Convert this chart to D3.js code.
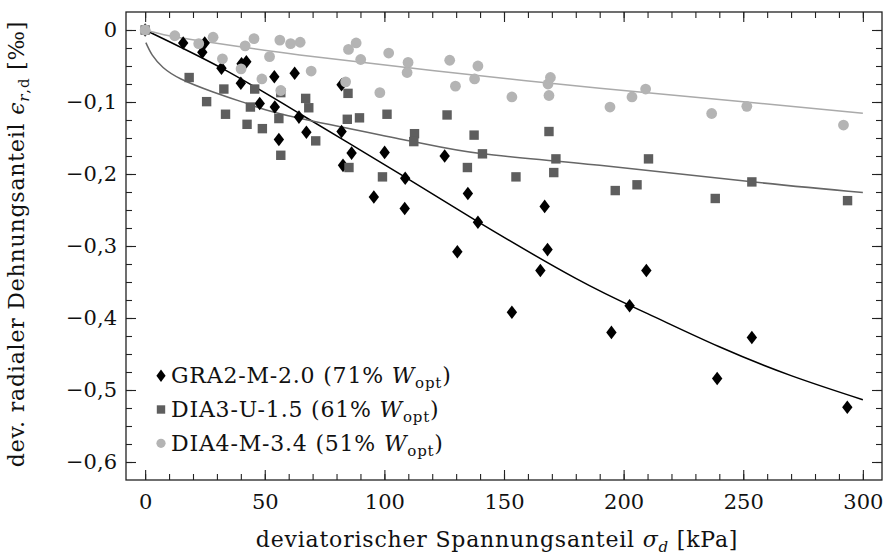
<!DOCTYPE html>
<html>
<head>
<meta charset="utf-8">
<script src="https://cdn.jsdelivr.net/npm/d3@7/dist/d3.min.js"></script>
<style>
  html, body { margin: 0; padding: 0; background: #fff; }
  svg { display: block; }
  text { font-family: "DejaVu Serif", "Liberation Serif", serif; fill: #111; }
  .title, .legend-text { letter-spacing: 0.8px; }
</style>
</head>
<body>
<svg id="chart" width="886" height="557"></svg>
<script>
// GRA2-M-2.0 (black diamonds)
const graX = [0, 15.9, 24.9, 23.9, 31.9, 40.3, 42.3, 40.0, 54.0, 47.9, 54.2, 55.9, 62.5, 64.3, 67.4,
  82.1, 82.1, 86.3, 82.7, 100.1, 95.6, 108.7, 108.5, 125.2, 134.9, 139.1, 130.5, 167.0, 168.2,
  165.2, 153.3, 209.5, 202.5, 194.9, 253.6, 239.1, 293.5];
const graY = [0, -0.018, -0.018, -0.031, -0.053, -0.047, -0.044, -0.074, -0.065, -0.102, -0.107,
  -0.152, -0.060, -0.121, -0.142, -0.076, -0.141, -0.171, -0.188, -0.170, -0.232, -0.206, -0.248,
  -0.175, -0.227, -0.267, -0.308, -0.245, -0.305, -0.334, -0.392, -0.334, -0.383, -0.420, -0.427,
  -0.484, -0.524];

// DIA3-U-1.5 (dark grey squares)
const dia3X = [0, 18.4, 25.7, 32.9, 33.6, 42.6, 44.0, 45.8, 49.0, 55.9, 56.7, 56.7, 67.1, 68.4,
  71.3, 84.8, 84.5, 89.6, 85.2, 101.1, 112.6, 112.3, 99.2, 126.2, 137.5, 141.0, 134.7, 155.0,
  168.8, 171.7, 170.8, 210.4, 196.5, 205.6, 238.3, 253.6, 293.6];
const dia3Y = [0, -0.066, -0.0995, -0.082, -0.117, -0.131, -0.107, -0.082, -0.137, -0.123, -0.174,
  -0.087, -0.095, -0.108, -0.154, -0.088, -0.124, -0.122, -0.191, -0.117, -0.144, -0.155, -0.204,
  -0.118, -0.146, -0.172, -0.191, -0.204, -0.141, -0.179, -0.198, -0.179, -0.223, -0.215, -0.234,
  -0.211, -0.237];

// DIA4-M-3.4 (light grey circles)
const dia4X = [0, 12.4, 22.4, 28.4, 32.3, 41.8, 45.5, 40.1, 52.0, 48.8, 56.3, 60.8, 64.8, 56.7,
  69.4, 83.8, 85.0, 88.2, 90.1, 98.1, 101.8, 109.9, 109.5, 127.3, 129.7, 137.7, 139.1, 153.3,
  168.8, 168.4, 169.4, 194.3, 203.5, 209.2, 236.8, 251.5, 291.9];
const dia4Y = [0, -0.008, -0.019, -0.010, -0.040, -0.022, -0.012, -0.054, -0.037, -0.068, -0.014,
  -0.019, -0.017, -0.084, -0.057, -0.072, -0.027, -0.018, -0.041, -0.087, -0.032, -0.045, -0.059,
  -0.042, -0.078, -0.068, -0.050, -0.093, -0.091, -0.075, -0.066, -0.107, -0.093, -0.082, -0.116,
  -0.106, -0.132];

// Trend curves, sampled along each fit
const graFitX = [0, 32, 65, 109, 139, 180, 210, 240, 270, 300];
const graFitY = [0, -0.053, -0.117, -0.205, -0.266, -0.345, -0.394, -0.440, -0.480, -0.5135];
const dia3FitX = [0.3, 3, 7.5, 15, 28.4, 45, 64.6, 112, 141, 190, 252.6, 300];
const dia3FitY = [-0.0176, -0.035, -0.052, -0.068, -0.086, -0.105, -0.1226, -0.155, -0.172, -0.188, -0.2105, -0.2258];
const dia4FitX = [0, 10, 28.4, 64.6, 120, 190, 250, 300];
const dia4FitY = [0, -0.008, -0.0178, -0.0347, -0.0562, -0.081, -0.0995, -0.1157];

// Axis ticks
const xMajorTicks = [0, 50, 100, 150, 200, 250, 300];
const xMinorTicks = d3.range(0, 301, 10);
const yMajorTicks = [0, -0.1, -0.2, -0.3, -0.4, -0.5, -0.6];
const yMinorTicks = d3.range(0, 25).map(i => -i * 0.025);

// Legend entries
const legendNames = ["GRA2-M-2.0 (71%\u00A0", "DIA3-U-1.5 (61%\u00A0", "DIA4-M-3.4 (51%\u00A0"];
const seriesColors = ["#000000", "#5e5e5e", "#b4b4b4"];
const fitColors = ["#000000", "#666666", "#aaaaaa"];

const FS_TICK = 21, FS = 22, FS_SUB = 15;

const svg = d3.select("#chart");
const plot = { left: 126, right: 882, top: 12, bottom: 480 };

const x = d3.scaleLinear().domain([-8, 308]).range([plot.left, plot.right]);
const y = d3.scaleLinear().domain([-0.625, 0.025]).range([plot.bottom, plot.top]);

const de = d3.formatLocale({ decimal: ",", thousands: ".", grouping: [3], currency: ["", " €"], minus: "\u2212" });
const fmt = de.format(".1~f");

// Frame
svg.append("rect")
  .attr("x", plot.left).attr("y", plot.top)
  .attr("width", plot.right - plot.left).attr("height", plot.bottom - plot.top)
  .attr("fill", "none").attr("stroke", "#222").attr("stroke-width", 1.3);

function styleAxis(g) {
  g.select(".domain").remove();
  g.selectAll(".tick line").attr("stroke", "#222").attr("stroke-width", 1.1);
  g.selectAll("text").attr("font-size", FS_TICK).attr("fill", "#111")
    .attr("font-family", '"DejaVu Serif", serif');
}

// Minor ticks on all four sides
svg.append("g").attr("transform", `translate(0,${plot.bottom})`)
  .call(d3.axisBottom(x).tickValues(xMinorTicks).tickSize(-6).tickFormat(""))
  .call(styleAxis);
svg.append("g").attr("transform", `translate(0,${plot.top})`)
  .call(d3.axisTop(x).tickValues(xMinorTicks).tickSize(-6).tickFormat(""))
  .call(styleAxis);
svg.append("g").attr("transform", `translate(${plot.left},0)`)
  .call(d3.axisLeft(y).tickValues(yMinorTicks).tickSize(-6).tickFormat(""))
  .call(styleAxis);
svg.append("g").attr("transform", `translate(${plot.right},0)`)
  .call(d3.axisRight(y).tickValues(yMinorTicks).tickSize(-6).tickFormat(""))
  .call(styleAxis);

// Major ticks with labels
svg.append("g").attr("transform", `translate(0,${plot.bottom})`)
  .call(d3.axisBottom(x).tickValues(xMajorTicks).tickSize(-10).tickPadding(14).tickFormat(fmt))
  .call(styleAxis);
svg.append("g").attr("transform", `translate(0,${plot.top})`)
  .call(d3.axisTop(x).tickValues(xMajorTicks).tickSize(-10).tickFormat(""))
  .call(styleAxis);
svg.append("g").attr("transform", `translate(${plot.left},0)`)
  .call(d3.axisLeft(y).tickValues(yMajorTicks).tickSize(-10).tickPadding(9).tickFormat(fmt))
  .call(styleAxis);
svg.append("g").attr("transform", `translate(${plot.right},0)`)
  .call(d3.axisRight(y).tickValues(yMajorTicks).tickSize(-10).tickFormat(""))
  .call(styleAxis);

// Fit curves
const line = d3.line().x(d => x(d[0])).y(d => y(d[1])).curve(d3.curveNatural);
const fits = [
  d3.zip(graFitX, graFitY),
  d3.zip(dia3FitX, dia3FitY),
  d3.zip(dia4FitX, dia4FitY)
];
fits.forEach((pts, i) => {
  svg.append("path").attr("d", line(pts))
    .attr("fill", "none").attr("stroke", fitColors[i]).attr("stroke-width", 1.5);
});

// Markers
const diamond = (hw, hh) => `M0,${-hh}L${hw},0L0,${hh}L${-hw},0Z`;

svg.append("g").selectAll("path").data(d3.zip(graX, graY)).join("path")
  .attr("transform", d => `translate(${x(d[0])},${y(d[1])})`)
  .attr("d", diamond(5.2, 6.8)).attr("fill", seriesColors[0]);

svg.append("g").selectAll("rect").data(d3.zip(dia3X, dia3Y)).join("rect")
  .attr("x", d => x(d[0]) - 4.7).attr("y", d => y(d[1]) - 4.7)
  .attr("width", 9.4).attr("height", 9.4).attr("fill", seriesColors[1]);

svg.append("g").selectAll("circle").data(d3.zip(dia4X, dia4Y)).join("circle")
  .attr("cx", d => x(d[0])).attr("cy", d => y(d[1]))
  .attr("r", 5.4).attr("fill", seriesColors[2]);

// Legend
const legend = svg.append("g");
const legRowY = [375.7, 409.5, 443.3];
const legMarkX = 161;
legend.append("path").attr("transform", `translate(${legMarkX},${legRowY[0]})`)
  .attr("d", diamond(4.6, 6.3)).attr("fill", seriesColors[0]);
legend.append("rect").attr("x", legMarkX - 4.2).attr("y", legRowY[1] - 4.2)
  .attr("width", 8.4).attr("height", 8.4).attr("fill", seriesColors[1]);
legend.append("circle").attr("cx", legMarkX).attr("cy", legRowY[2])
  .attr("r", 4.6).attr("fill", seriesColors[2]);

legendNames.forEach((name, i) => {
  const t = legend.append("text").attr("class", "legend-text")
    .attr("x", 171).attr("y", legRowY[i] + 7.5).attr("font-size", FS);
  t.append("tspan").text(name);
  t.append("tspan").attr("font-style", "italic").text("W");
  t.append("tspan").attr("font-size", FS_SUB).attr("dy", 5).text("opt");
  t.append("tspan").attr("dy", -5).text(")");
});

// Axis titles
const xt = svg.append("text").attr("class", "title")
  .attr("x", 497).attr("y", 547).attr("text-anchor", "middle").attr("font-size", FS);
xt.append("tspan").text("deviatorischer Spannungsanteil ");
xt.append("tspan").attr("font-style", "italic").text("σ");
xt.append("tspan").attr("font-style", "italic").attr("font-size", FS_SUB).attr("dy", 5).text("d");
xt.append("tspan").attr("dy", -5).text(" [kPa]");

const yt = svg.append("text").attr("class", "title")
  .attr("transform", "translate(24,244) rotate(-90)")
  .attr("text-anchor", "middle").attr("font-size", FS);
yt.append("tspan").text("dev. radialer Dehnungsanteil ");
yt.append("tspan").attr("font-style", "italic").text("ϵ");
yt.append("tspan").attr("font-style", "italic").attr("font-size", FS_SUB).attr("dy", 5).text("r");
yt.append("tspan").attr("font-size", FS_SUB).text(",d");
yt.append("tspan").attr("dy", -5).text(" [‰]");
</script>
</body>
</html>
